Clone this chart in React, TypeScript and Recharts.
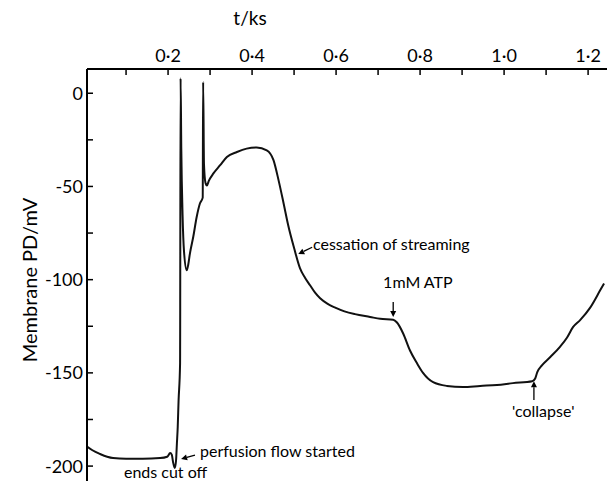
import { LineChart, Line, XAxis, YAxis, ReferenceDot, ReferenceLine } from "recharts"

const FONT = "Lato, 'Noto Sans', sans-serif"

// time in ks, membrane potential in mV
const times = [
  0.007, 0.02, 0.038, 0.055, 0.069, 0.1, 0.14, 0.181, 0.198, 0.205, 0.209,
  0.212, 0.216, 0.219, 0.221, 0.223, 0.225, 0.2286, 0.2298, 0.2315, 0.2345,
  0.238, 0.2445, 0.248, 0.252, 0.26, 0.268, 0.276, 0.2825, 0.2835, 0.2855,
  0.289, 0.2925, 0.297, 0.308, 0.324, 0.34, 0.364, 0.387, 0.411, 0.435, 0.451,
  0.463, 0.475, 0.486, 0.5, 0.514, 0.526, 0.538, 0.55, 0.562, 0.58, 0.598,
  0.62, 0.645, 0.681, 0.705, 0.736, 0.745, 0.76, 0.776, 0.793, 0.807, 0.831,
  0.864, 0.902, 0.943, 0.983, 1.021, 1.067, 1.074, 1.079, 1.09, 1.11, 1.133,
  1.15, 1.164, 1.181, 1.205, 1.229, 1.238,
]
const potential = [
  -189.5, -191.5, -193.5, -195, -195.7, -196, -196, -195.7, -195, -193, -194,
  -198, -201, -197, -188, -179, -165, -145, 8, -30, -65,
  -85, -95, -92, -86, -77, -66.5, -59, -56, 6, -38,
  -48, -49.5, -47, -43, -38.6, -34.2, -31.5, -29.7, -29.1, -30.6, -35.9,
  -46.6, -59, -70.8, -83, -93.8, -99, -103, -107, -110, -113, -115,
  -117, -118.5, -120, -121, -121.5, -123, -129, -138, -145, -150, -155,
  -157, -157.6, -157, -156.5, -155.5, -154.5, -153, -149.6, -146, -141.5, -136,
  -131, -125.5, -121.7, -115, -105.6, -102,
]

const xTicks = [0.1, 0.2, 0.3, 0.4, 0.5, 0.6, 0.7, 0.8, 0.9, 1.0, 1.1, 1.2]
const yTicks = [-200, -175, -150, -125, -100, -75, -50, -25, 0]

const data = times.map((t, i) => ({ t, pd: potential[i] }))

const fmtTime = (v: number) => v.toFixed(1).replace(".", "·")

const TopTick = (props: any) => {
  const { x, y, payload } = props
  const major = Math.round(payload.value * 10) % 2 === 0
  return (
    <g>
      <line x1={x} y1={y} x2={x} y2={y + 6} stroke="#000" strokeWidth={1.5} />
      {major && (
        <text x={x} y={y - 7} textAnchor="middle" fontSize={18} fontFamily={FONT} fill="#000">
          {fmtTime(payload.value)}
        </text>
      )}
    </g>
  )
}

const LeftTick = (props: any) => {
  const { x, y, payload } = props
  const major = payload.value % 50 === 0
  return (
    <g>
      <line x1={x} y1={y} x2={x + 6} y2={y} stroke="#000" strokeWidth={1.5} />
      {major && (
        <text x={x - 4} y={y} dy="0.36em" textAnchor="end" fontSize={18} fontFamily={FONT} fill="#000">
          {payload.value}
        </text>
      )}
    </g>
  )
}

const Arrow = (props: any) => {
  const { x1, y1, x2, y2 } = props
  const a = Math.atan2(y2 - y1, x2 - x1)
  const len = 6
  const w = 3
  const bx = x2 - len * Math.cos(a)
  const by = y2 - len * Math.sin(a)
  const px = -Math.sin(a) * w
  const py = Math.cos(a) * w
  return (
    <g>
      <line x1={x1} y1={y1} x2={bx} y2={by} stroke="#000" strokeWidth={1.3} />
      <polygon points={`${x2},${y2} ${bx + px},${by + py} ${bx - px},${by - py}`} fill="#000" />
    </g>
  )
}

const note = (text: string) => (p: any) => (
  <text x={p.cx} y={p.cy} fontSize={16} fontFamily={FONT} fill="#000">
    {text}
  </text>
)

export default function App() {
  return (
    <div style={{ position: "absolute", left: 0, top: 0, background: "#fff" }}>
      <LineChart width={607} height={481} data={data} margin={{ top: 0, right: 0, bottom: 0, left: 0 }}>
        <XAxis
          dataKey="t"
          type="number"
          orientation="top"
          domain={[0.007, 1.245]}
          ticks={xTicks}
          height={69}
          tickSize={0}
          tickMargin={0}
          tick={<TopTick />}
          axisLine={{ stroke: "#000", strokeWidth: 2 }}
          allowDataOverflow
          label={{
            content: ({ viewBox }: any) => (
              <text x={viewBox.x + 163} y={25} textAnchor="middle" fontSize={19} fontFamily={FONT} fill="#000">
                t/ks
              </text>
            ),
          }}
        />
        <YAxis
          type="number"
          domain={[-208, 13]}
          ticks={yTicks}
          width={87}
          tickSize={0}
          tickMargin={0}
          tick={<LeftTick />}
          axisLine={{ stroke: "#000", strokeWidth: 2 }}
          allowDataOverflow
          label={{
            content: () => (
              <text
                x={29}
                y={280}
                transform="rotate(-90 29 280)"
                textAnchor="middle"
                dominantBaseline="central"
                fontSize={20}
                fontFamily={FONT}
                fill="#000"
              >
                Membrane PD/mV
              </text>
            ),
          }}
        />
        <Line
          type="monotone"
          dataKey="pd"
          stroke="#111"
          strokeWidth={2}
          dot={false}
          activeDot={false}
          isAnimationActive={false}
        />

        <ReferenceLine segment={[{ x: 0.264, y: -194.1 }, { x: 0.231, y: -196.2 }]} shape={<Arrow />} ifOverflow="visible" />
        <ReferenceLine segment={[{ x: 0.543, y: -82.6 }, { x: 0.51, y: -86.3 }]} shape={<Arrow />} ifOverflow="visible" />
        <ReferenceLine segment={[{ x: 0.736, y: -112 }, { x: 0.736, y: -120 }]} shape={<Arrow />} ifOverflow="visible" />
        <ReferenceLine segment={[{ x: 1.071, y: -164.6 }, { x: 1.071, y: -154.5 }]} shape={<Arrow />} ifOverflow="visible" />

        <ReferenceDot x={0.276} y={-195.2} r={0} shape={note("perfusion flow started")} ifOverflow="visible" />
        <ReferenceDot x={0.095} y={-206.4} r={0} shape={note("ends cut off")} ifOverflow="visible" />
        <ReferenceDot x={0.545} y={-84.2} r={0} shape={note("cessation of streaming")} ifOverflow="visible" />
        <ReferenceDot x={0.712} y={-104.6} r={0} shape={note("1mM ATP")} ifOverflow="visible" />
        <ReferenceDot x={1.019} y={-173.7} r={0} shape={note("'collapse'")} ifOverflow="visible" />
      </LineChart>
    </div>
  )
}
